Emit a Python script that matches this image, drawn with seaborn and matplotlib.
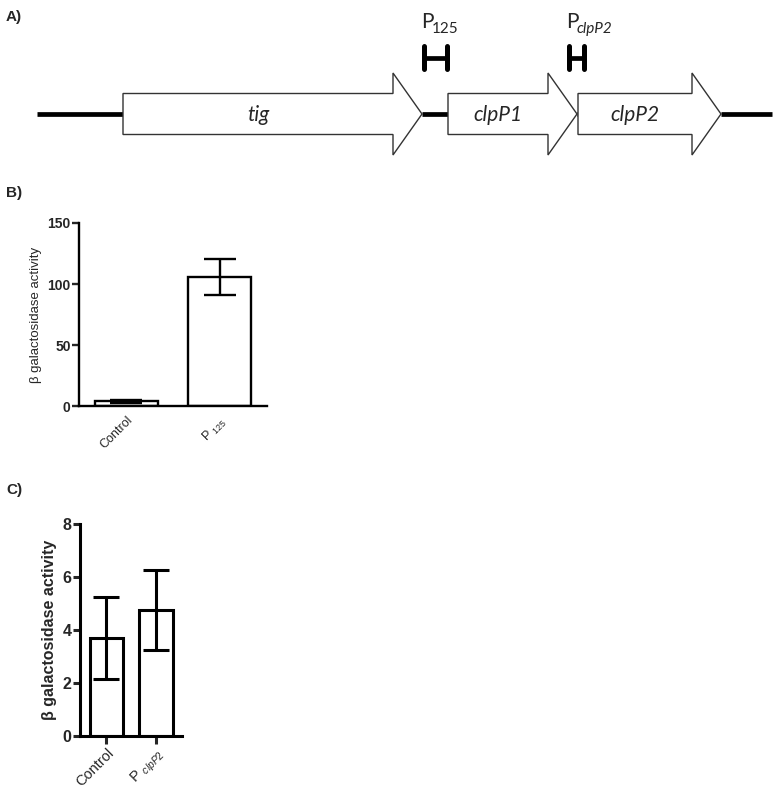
import numpy as np
import pandas as pd
import matplotlib
matplotlib.use("Agg")
import matplotlib.pyplot as plt
import seaborn as sns
from matplotlib.patches import Polygon

sns.set_theme(style="ticks")
plt.rcParams['font.family'] = ['Liberation Sans', 'DejaVu Sans']
plt.rcParams['mathtext.fontset'] = 'custom'
plt.rcParams['mathtext.rm'] = 'Liberation Sans'
plt.rcParams['mathtext.it'] = 'Liberation Sans:italic'
plt.rcParams['mathtext.bf'] = 'Liberation Sans:bold'

# ---------------- data ----------------
# Panel A: gene map (arbitrary map units)
gene_names = ["tig", "clpP1", "clpP2"]
gene_start = [123, 448, 578]
gene_end = [422, 577, 721]
map_start, map_end = 37, 772
promoter_main = ["P", "P"]
promoter_sub = ["125", "clpP2"]
promoter_sub_italic = [False, True]
promoter_start = [422, 567]
promoter_end = [449, 586]

# Panel B
b_categories = ["Control", "P $_{125}$"]
b_values = [3.8, 105.8]
b_err = [1.3, 14.8]

# Panel C
c_categories = ["Control", "P $_{\\mathit{clpP2}}$"]
c_values = [3.7, 4.75]
c_err = [1.55, 1.5]

W, H = 776, 788
fig = plt.figure(figsize=(W / 100, H / 100), dpi=100)

def rect(x0, y0, x1, y1):
    return [x0 / W, 1 - y1 / H, (x1 - x0) / W, (y1 - y0) / H]

FA = ["Lato", "DejaVu Sans"]

# ---------------- Panel A ----------------
axA = fig.add_axes([0, 1 - 170 / H, 1, 170 / H])
axA.set_xlim(0, W)
axA.set_ylim(170, 0)
axA.axis("off")
yc = 114
body_h = 20.5
head_h = 41
head_len = 29
starts = [map_start] + gene_end
ends = gene_start + [map_end]
for s, e in zip(starts, ends):
    if e > s:
        axA.plot([s, e], [yc, yc], color="black", lw=3.4, solid_capstyle="butt", zorder=1)
for name, s, e in zip(gene_names, gene_start, gene_end):
    hb = e - head_len
    pts = [(s, yc - body_h), (hb, yc - body_h), (hb, yc - head_h), (e, yc),
           (hb, yc + head_h), (hb, yc + body_h), (s, yc + body_h)]
    axA.add_patch(Polygon(pts, closed=True, facecolor="white", edgecolor="#333333",
                          lw=1.0, zorder=2))
    axA.text((s + hb) / 2, yc + 1, name, ha="center", va="center", fontsize=15,
             style="italic", family=FA, zorder=3)
for m, sub, itl, s, e in zip(promoter_main, promoter_sub, promoter_sub_italic,
                             promoter_start, promoter_end):
    axA.plot([s, e], [57.5, 57.5], color="black", lw=3.4, solid_capstyle="butt")
    axA.plot([s + 2, s + 2], [46, 69], color="black", lw=3.6)
    axA.plot([e - 2, e - 2], [46, 69], color="black", lw=3.6)
    axA.text(s - 1, 28, m, ha="left", va="baseline", fontsize=15, family=FA)
    axA.text(s + 10, 33, sub, ha="left", va="baseline", fontsize=11, family=FA,
             style="italic" if itl else "normal")
fig.text(6 / W, 1 - 17 / H, "A)", fontsize=11, fontweight="bold", va="center")
fig.text(6 / W, 1 - 193 / H, "B)", fontsize=11, fontweight="bold", va="center")
fig.text(6 / W, 1 - 490 / H, "C)", fontsize=11, fontweight="bold", va="center")

# ---------------- bar panels ----------------
def bar_panel(ax, cats, vals, errs, ymax, yticks, xlim, bw, ticks, ylab_bold,
              lw, cap, ytick_fs, xtick_fs, ylab_fs):
    df = pd.DataFrame({"cat": cats, "val": vals})
    sns.barplot(data=df, x="cat", y="val", ax=ax, color="white", edgecolor="black",
                linewidth=lw, width=bw, errorbar=None, saturation=1)
    ax.errorbar(np.arange(len(vals)), vals, yerr=errs, fmt="none", ecolor="black",
                elinewidth=lw, capsize=cap, capthick=lw, zorder=5)
    ax.set_ylim(0, ymax)
    ax.set_xlim(*xlim)
    ax.set_yticks(yticks)
    ax.set_yticklabels([str(t) for t in yticks], fontweight="bold", fontsize=ytick_fs)
    for lab in ax.get_xticklabels():
        lab.set_rotation(45)
        lab.set_ha("right")
        lab.set_rotation_mode("anchor")
        lab.set_fontsize(xtick_fs)
    ax.set_xlabel("")
    ax.set_ylabel("β galactosidase activity", fontsize=ylab_fs,
                  fontweight="bold" if ylab_bold else "normal")
    for sp in ["top", "right"]:
        ax.spines[sp].set_visible(False)
    for sp in ["left", "bottom"]:
        ax.spines[sp].set_linewidth(lw)
        ax.spines[sp].set_color("black")
    ax.tick_params(axis="y", width=lw, length=5, pad=1)
    if ticks:
        ax.tick_params(axis="x", width=lw, length=6, pad=1)
    else:
        ax.tick_params(axis="x", length=0, pad=6)

axB = fig.add_axes(rect(79, 223, 267, 406))
bar_panel(axB, b_categories, b_values, b_err, 150, [0, 50, 100, 150],
          (-0.51, 1.51), 0.68, False, False, 1.7, 11.5, 10, 9, 9.5)

axC = fig.add_axes(rect(80, 524, 182, 736))
bar_panel(axC, c_categories, c_values, c_err, 8, [0, 2, 4, 6, 8],
          (-0.535, 1.525), 0.67, True, True, 2.2, 9.5, 11.5, 10.5, 11.5)

fig.savefig("out.png", dpi=100, facecolor="white")
